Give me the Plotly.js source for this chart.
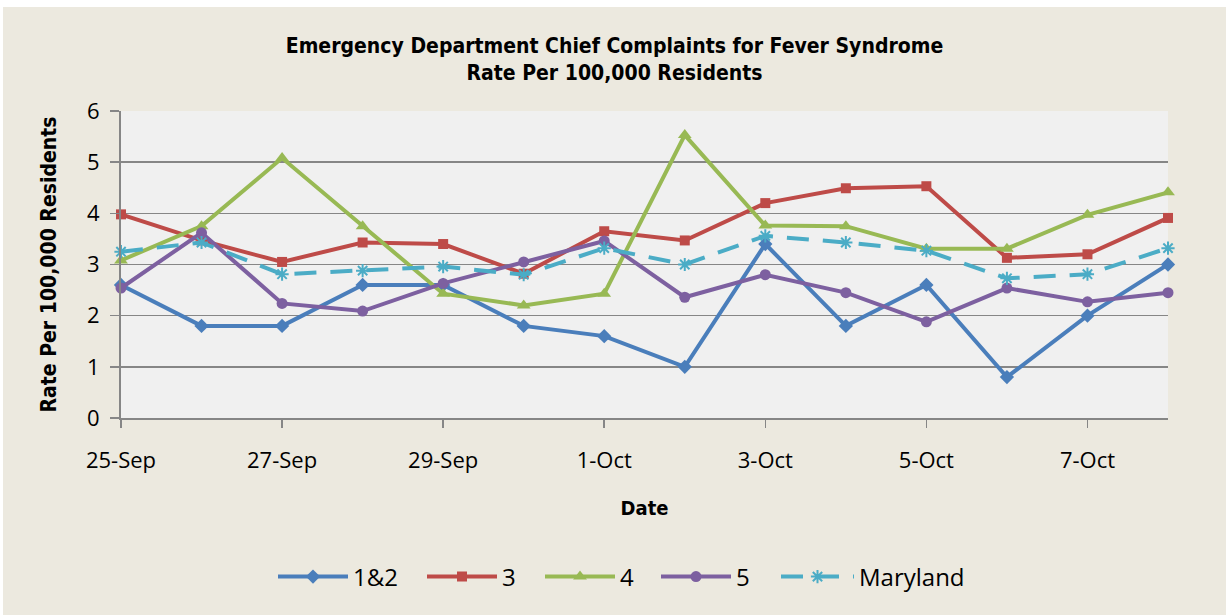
<!DOCTYPE html>
<html>
<head>
<meta charset="utf-8">
<script src="https://cdn.plot.ly/plotly-3.0.1.min.js"></script>
<style>
  html, body { margin: 0; padding: 0; background: #ffffff; }
  #chart { position: absolute; left: 3px; top: 7px; width: 1223px; height: 608px; }
</style>
</head>
<body>
<div id="chart"></div>
<script>
const dates = ['25-Sep','26-Sep','27-Sep','28-Sep','29-Sep','30-Sep','1-Oct','2-Oct','3-Oct','4-Oct','5-Oct','6-Oct','7-Oct','8-Oct'];
const tickLabels = ['25-Sep','27-Sep','29-Sep','1-Oct','3-Oct','5-Oct','7-Oct'];
const region12 = [2.6, 1.8, 1.8, 2.6, 2.6, 1.8, 1.6, 1.0, 3.4, 1.8, 2.6, 0.8, 2.0, 3.0];
const region3  = [3.98, 3.47, 3.05, 3.43, 3.40, 2.82, 3.65, 3.47, 4.20, 4.49, 4.53, 3.13, 3.20, 3.91];
const region4  = [3.08, 3.75, 5.08, 3.75, 2.43, 2.20, 2.43, 5.53, 3.76, 3.75, 3.31, 3.31, 3.97, 4.41];
const region5  = [2.54, 3.62, 2.24, 2.09, 2.63, 3.05, 3.46, 2.36, 2.80, 2.45, 1.88, 2.54, 2.27, 2.45];
const maryland = [3.25, 3.43, 2.81, 2.88, 2.96, 2.80, 3.32, 3.00, 3.56, 3.43, 3.27, 2.73, 2.81, 3.32];

const labelFont = '"Open Sans", sans-serif';
const boldFont = '"DejaVu Sans Condensed", "DejaVu Sans", sans-serif';

const W = 1223, H = 608;
// legend entry left edges (page px) for each series
const legendLeft = [273, 422, 540, 656, 776];

function series(name, y, color, symbol, size, dash, legendId) {
  return {
    type: 'scatter', mode: 'lines+markers', name: name, x: dates, y: y,
    cliponaxis: false, legend: legendId,
    line: { color: color, width: 4, dash: dash || 'solid' },
    marker: { symbol: symbol, size: size, color: color,
              line: { color: color, width: symbol === 'asterisk-open' ? 2 : 0 } }
  };
}

const data = [
  series('1&2', region12, '#4A7EBB', 'diamond', 11, null, 'legend'),
  series('3', region3, '#BE4B48', 'square', 10, null, 'legend2'),
  series('4', region4, '#98B954', 'triangle-up', 12, null, 'legend3'),
  series('5', region5, '#7D60A0', 'circle', 11, null, 'legend4'),
  series('Maryland', maryland, '#4BACC6', 'asterisk-open', 11, '22px,14px', 'legend5')
];

function legendAt(px, width) {
  return {
    orientation: 'h',
    xref: 'container', yref: 'container',
    x: (px - 3) / W, xanchor: 'left',
    y: 38 / H, yanchor: 'middle',
    font: { family: labelFont, size: 24, color: '#000000' },
    bgcolor: 'rgba(0,0,0,0)',
    borderwidth: 0,
    itemwidth: width
  };
}

const layout = {
  width: W, height: H,
  paper_bgcolor: '#ECE9DF',
  plot_bgcolor: '#F0F0F0',
  margin: { l: 118, r: 58, t: 104, b: 197 },
  title: {
    text: 'Emergency Department Chief Complaints for Fever Syndrome<br>Rate Per 100,000 Residents',
    font: { family: boldFont, size: 21, color: '#000000', weight: 'bold' },
    x: 0.5, xref: 'container', xanchor: 'center',
    y: 1 - 46 / H, yref: 'container', yanchor: 'middle'
  },
  xaxis: {
    type: 'category',
    range: [0, 13],
    tickmode: 'array',
    tickvals: tickLabels,
    ticktext: tickLabels,
    ticks: 'outside', ticklen: 8, tickwidth: 1.5, tickcolor: '#868686',
    ticklabelstandoff: 14,
    showline: true, linecolor: '#868686', linewidth: 2,
    showgrid: false, zeroline: false,
    tickfont: { family: labelFont, size: 22, color: '#000000' },
    title: { text: 'Date', font: { family: boldFont, size: 20, color: '#000000', weight: 'bold' }, standoff: 28 }
  },
  yaxis: {
    range: [0, 6],
    dtick: 1,
    ticks: 'outside', ticklen: 9, tickwidth: 1.5, tickcolor: '#868686',
    ticklabelstandoff: 6,
    showline: true, linecolor: '#868686', linewidth: 2,
    showgrid: true, gridcolor: '#868686', gridwidth: 1.5,
    zeroline: false,
    tickfont: { family: labelFont, size: 22, color: '#000000' },
    title: { text: 'Rate Per 100,000 Residents', font: { family: boldFont, size: 21, color: '#000000', weight: 'bold' }, standoff: 25 }
  },
  showlegend: true,
  legend: legendAt(legendLeft[0], 70),
  legend2: legendAt(legendLeft[1], 70),
  legend3: legendAt(legendLeft[2], 70),
  legend4: legendAt(legendLeft[3], 70),
  legend5: legendAt(legendLeft[4], 73)
};

Plotly.newPlot('chart', data, layout, { displayModeBar: false, staticPlot: true });
</script>
</body>
</html>
